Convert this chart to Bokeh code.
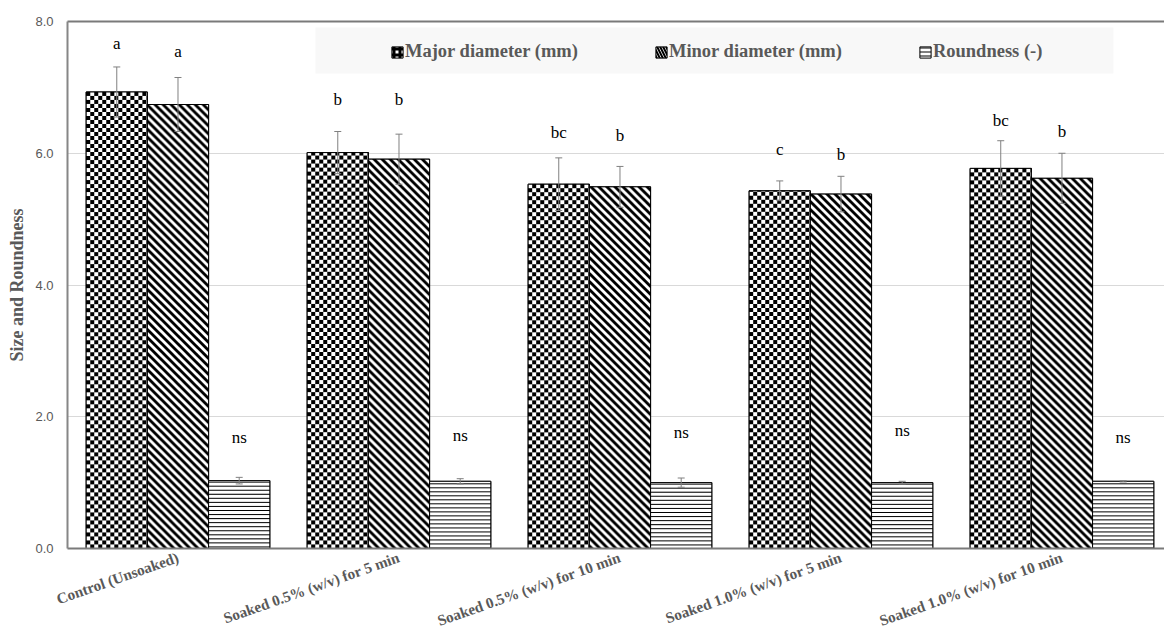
import numpy as np
from bokeh.plotting import figure
from bokeh.models import (ColumnDataSource, FixedTicker, LinearAxis, Range1d, Whisker,
                          TeeHead, Legend, LegendItem, BoxAnnotation, NumeralTickFormatter)
from bokeh.core.properties import value
from bokeh.embed import file_html
from bokeh.resources import INLINE

# ---------------- data ----------------
categories = ["Control (Unsoaked)", "Soaked 0.5% (w/v) for 5 min",
              "Soaked 0.5% (w/v) for 10 min", "Soaked 1.0% (w/v) for 5 min",
              "Soaked 1.0% (w/v) for 10 min"]
series = ["Major diameter (mm)", "Minor diameter (mm)", "Roundness (-)"]
major = [6.93, 6.01, 5.53, 5.43, 5.77]
major_err = [0.38, 0.32, 0.40, 0.15, 0.42]
minor = [6.74, 5.91, 5.49, 5.38, 5.62]
minor_err = [0.41, 0.38, 0.31, 0.27, 0.38]
roundness = [1.03, 1.02, 1.00, 1.00, 1.02]
roundness_err = [0.05, 0.04, 0.07, 0.02, 0.01]
major_letters = ["a", "b", "bc", "c", "bc"]
minor_letters = ["a", "b", "b", "b", "b"]
roundness_letters = ["ns", "ns", "ns", "ns", "ns"]
major_letter_y = [7.66, 6.82, 6.31, 6.06, 6.50]
minor_letter_y = [7.55, 6.82, 6.27, 5.98, 6.33]
roundness_letter_y = [1.69, 1.72, 1.76, 1.79, 1.69]
y_ticks = [0.0, 2.0, 4.0, 6.0, 8.0]
y_label = "Size and Roundness"

# ---------------- layout constants ----------------
W, H = 1164, 641
LEFT, RIGHT, TOP, BOTTOM = 67, 0, 21, 93
X0, X1, Y0, Y1 = -0.5, 4.464, 0.0, 8.0
BW = 0.277
ppx = (W - LEFT - RIGHT) / (X1 - X0)
ppy = (H - TOP - BOTTOM) / (Y1 - Y0)

p = figure(width=W, height=H, x_range=Range1d(X0, X1), y_range=Range1d(Y0, Y1),
           output_backend="svg", toolbar_location=None,
           min_border_left=LEFT, min_border_right=RIGHT, min_border_top=TOP,
           min_border_bottom=BOTTOM,
           outline_line_color=None, background_fill_color="white", border_fill_color="white")

idx = np.arange(len(categories))


def pattern_rgba(kind, nx, ny):
    """Fill texture (black on white) for one bar, row 0 = bottom."""
    yy, xx = np.mgrid[0:ny, 0:nx]
    if kind == "checker":
        black = ((yy // 4 + xx // 4) % 2) == 1
    elif kind == "diag":
        black = ((xx + yy) % 8) < 4
    else:  # horizontal lines
        black = ((ny - 1 - yy) % 4) == 2
    img = np.empty((ny, nx), dtype=np.uint32)
    v = img.view(dtype=np.uint8).reshape((ny, nx, 4))
    g = np.where(black, 0, 255).astype(np.uint8)
    v[..., 0] = g
    v[..., 1] = g
    v[..., 2] = g
    v[..., 3] = 255
    return img


legend_bg = BoxAnnotation(left=0.622, right=4.233, top=7.91, bottom=7.21,
                          fill_color="#f8f8f8", fill_alpha=1, line_color=None, level="underlay")
p.add_layout(legend_bg)

nx = int(round(BW * ppx))


def bar_series(vals, errs, letters, ly, offset, kind, hatch, hscale, hweight):
    vals = np.array(vals, dtype=float)
    errs = np.array(errs, dtype=float)
    src = ColumnDataSource(dict(x=idx + offset, top=vals, lo=vals - errs, hi=vals + errs,
                                txt=letters, ty=ly))
    # base bar (its built-in hatch is what the legend icon shows)
    base = p.vbar(x="x", top="top", width=BW, source=src, fill_color="white",
                  line_color="black", line_width=1, hatch_pattern=hatch, hatch_color="black",
                  hatch_scale=hscale, hatch_weight=hweight)
    imgs = [pattern_rgba(kind, nx, max(1, int(round(v * ppy)))) for v in vals]
    isrc = ColumnDataSource(dict(image=imgs, x=list(idx + offset - BW / 2),
                                 y=[0.0] * len(vals), dw=[BW] * len(vals), dh=list(vals)))
    p.image_rgba(image="image", x="x", y="y", dw="dw", dh="dh", source=isrc)
    p.vbar(x="x", top="top", width=BW, source=src, fill_color=None,
           line_color="black", line_width=1)
    wk = Whisker(base="x", lower="lo", upper="hi", source=src, line_color="#808080",
                 line_width=1,
                 upper_head=TeeHead(size=7, line_color="#808080", line_width=1),
                 lower_head=TeeHead(size=7, line_color="#808080", line_width=1),
                 level="annotation")
    p.add_layout(wk)
    p.text(x="x", y="ty", text="txt", source=src, text_align="center", text_baseline="middle",
           text_font=value("Liberation Serif"), text_font_size="17px", text_color="black")
    return base


r1 = bar_series(major, major_err, major_letters, major_letter_y, -BW, "checker", "+", 6, 3)
r2 = bar_series(minor, minor_err, minor_letters, minor_letter_y, 0.0, "diag", "\\", 6, 2)
r3 = bar_series(roundness, roundness_err, roundness_letters, roundness_letter_y, BW,
                "hline", "-", 4, 1)

# ---------------- axes ----------------
p.xgrid.visible = False
p.ygrid.ticker = FixedTicker(ticks=[2.0, 4.0, 6.0])
p.ygrid.grid_line_color = "#d9d9d9"
p.ygrid.grid_line_width = 1

yax = p.yaxis[0]
yax.ticker = FixedTicker(ticks=y_ticks)
yax.formatter = NumeralTickFormatter(format="0.0")
yax.major_tick_out = 0
yax.major_tick_in = 0
yax.minor_tick_out = 0
yax.minor_tick_in = 0
yax.axis_line_color = "#868686"
yax.axis_line_width = 2
yax.major_label_text_font = "Liberation Sans"
yax.major_label_text_font_size = "13px"
yax.major_label_text_color = "#595959"
yax.major_label_standoff = 14
yax.axis_label = y_label
yax.axis_label_text_font = "Liberation Serif"
yax.axis_label_text_font_style = "bold"
yax.axis_label_text_font_size = "18px"
yax.axis_label_text_color = "#595959"
yax.axis_label_standoff = 5

xax = p.xaxis[0]
xax.ticker = FixedTicker(ticks=list(range(len(categories))))
xax.major_label_overrides = {i: c for i, c in enumerate(categories)}
xax.major_label_orientation = 0.34
xax.major_tick_out = 0
xax.major_tick_in = 0
xax.minor_tick_out = 0
xax.minor_tick_in = 0
xax.axis_line_color = "#7a7a7a"
xax.axis_line_width = 2
xax.major_label_text_font = "Liberation Serif"
xax.major_label_text_font_style = "bold"
xax.major_label_text_font_size = "15.2px"
xax.major_label_text_color = "#595959"
xax.major_label_standoff = 8

top_ax = LinearAxis(ticker=FixedTicker(ticks=[]), axis_line_color="#7a7a7a", axis_line_width=2,
                    major_tick_out=0, major_tick_in=0, minor_tick_out=0, minor_tick_in=0,
                    major_label_text_font_size="0px")
p.add_layout(top_ax, "above")

# ---------------- legend ----------------
legend = Legend(items=[LegendItem(label=series[0], renderers=[r1]),
                       LegendItem(label=series[1], renderers=[r2]),
                       LegendItem(label=series[2], renderers=[r3])],
                orientation="horizontal", location=(323, 486), spacing=76, padding=0, margin=0,
                background_fill_alpha=0, border_line_color=None,
                label_text_font="Liberation Serif", label_text_font_style="bold",
                label_text_font_size="18.5px", label_text_color="#595959",
                glyph_width=14, glyph_height=14, label_standoff=1, label_height=20)
p.add_layout(legend, "center")

open("out.html", "w").write(file_html(p, INLINE))
